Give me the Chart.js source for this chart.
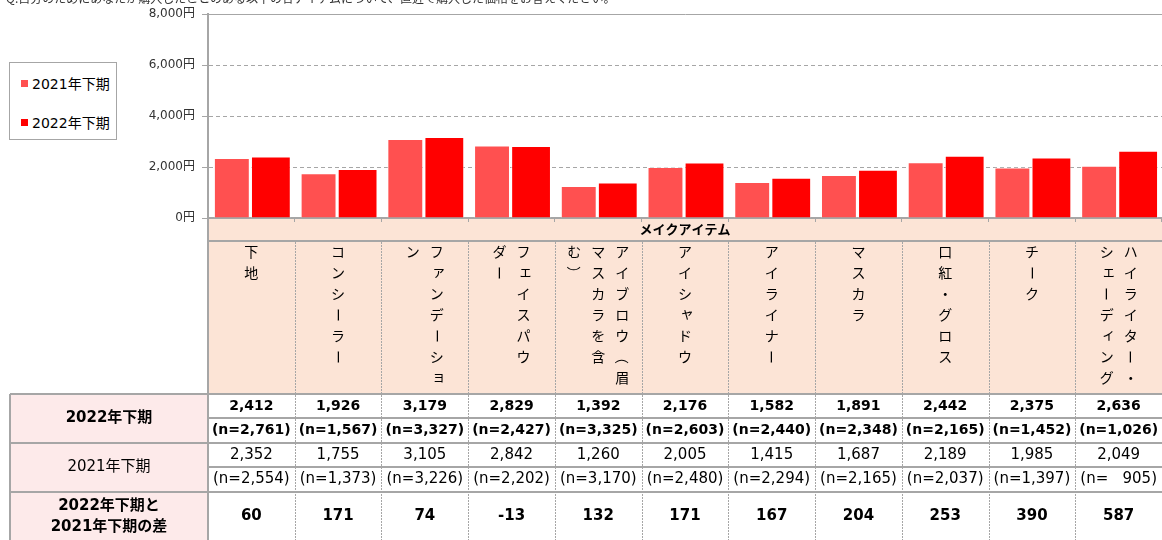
<!DOCTYPE html>
<html>
<head>
<meta charset="utf-8">
<script src="https://cdn.jsdelivr.net/npm/chart.js@4.4.0/dist/chart.umd.min.js"></script>
<style>
  body { margin: 0; background: #fff; font-family: "DejaVu Sans", "Noto Sans CJK JP", sans-serif; }
  #wrap { position: relative; width: 1162px; height: 540px; overflow: hidden; }
  #title { position: absolute; left: 6px; top: -11px; font-size: 12px; color: #333; white-space: nowrap; font-family: "Noto Sans CJK JP", sans-serif; }
  #legend { position: absolute; left: 9px; top: 62px; width: 106px; height: 76px; border: 1px solid #a6a6a6; background: #fff; }
  #legend .item { position: absolute; left: 11px; font-size: 14px; color: #000; white-space: nowrap; }
  #legend .box { display: inline-block; width: 7px; height: 7px; margin-right: 4px; vertical-align: 2px; }
</style>
</head>
<body>
<div id="wrap">
  <canvas id="myChart" width="1162" height="540"></canvas>
  <div id="title">Q.自分のためにあなたが購入したことのある以下の各アイテムについて、直近で購入した価格をお答えください。</div>
  <div id="legend"></div>
</div>
<script>
// categories, '\n' = next vertical column
const categories = ['下地', 'コンシーラー', 'ファンデーショ\nン', 'フェイスパウ\nダー', 'アイブロウ（眉\nマスカラを含\nむ）',
  'アイシャドウ', 'アイライナー', 'マスカラ', '口紅・グロス', 'チーク', 'ハイライター・\nシェーディング'];
const groupTitle = 'メイクアイテム';
const seriesNames = ['2021年下期', '2022年下期'];
const seriesColors = ['#FF5050', '#FF0000'];
const values2022 = [2412, 1926, 3179, 2829, 1392, 2176, 1582, 1891, 2442, 2375, 2636];
const values2021 = [2352, 1755, 3105, 2842, 1260, 2005, 1415, 1687, 2189, 1985, 2049];
const n2022 = [2761, 1567, 3327, 2427, 3325, 2603, 2440, 2348, 2165, 1452, 1026];
const n2021 = [2554, 1373, 3226, 2202, 3170, 2480, 2294, 2165, 2037, 1397, 905];
const diffs = [60, 171, 74, -13, 132, 171, 167, 204, 253, 390, 587];
const yTicks = [0, 2000, 4000, 6000, 8000];
const rowLabels = ['2022年下期', '2021年下期', '2022年下期と\n2021年下期の差'];

const numFont = '"DejaVu Sans", "Noto Sans CJK JP", sans-serif';
const jpFont = '"Noto Sans CJK JP", sans-serif';
const lineGray = '#A6A6A6';

const fmt = (v) => v.toLocaleString('en-US');
const fmtN = (v) => v >= 1000 ? `(n=${fmt(v)})` : `(n=   ${v})`;

function drawVertical(ctx, text, cx, top) {
  const cols = text.split('\n');
  const colGap = 24;
  const lineH = 21;
  cols.forEach((col, j) => {
    const colX = cx + (cols.length - 1) * colGap / 2 - j * colGap;
    [...col].forEach((ch, k) => {
      ctx.save();
      ctx.translate(colX, top + k * lineH);
      if ('ー（）'.includes(ch)) ctx.rotate(Math.PI / 2);
      if ('ァィゥェォャュョッ'.includes(ch)) ctx.translate(2, -2);
      ctx.fillText(ch, 0, 0);
      ctx.restore();
    });
  });
}

function hline(ctx, x1, x2, y) {
  ctx.beginPath();
  ctx.moveTo(x1, y);
  ctx.lineTo(x2, y);
  ctx.stroke();
}

function vline(ctx, x, y1, y2) {
  ctx.beginPath();
  ctx.moveTo(x, y1);
  ctx.lineTo(x, y2);
  ctx.stroke();
}

// table under the plot, laid out on the x scale
const tablePlugin = {
  id: 'makeTable',
  beforeDraw(chart) {
    const ctx = chart.ctx;
    const x = chart.scales.x;
    const bottom = chart.chartArea.bottom;
    const catBot = bottom + 176;
    ctx.save();
    ctx.fillStyle = '#FCE4D6';
    ctx.fillRect(x.left, bottom, x.right - x.left, catBot - bottom);
    ctx.fillStyle = '#FDEAEA';
    ctx.fillRect(10, catBot, x.left - 10, chart.height - catBot);
    ctx.restore();
  },
  afterDraw(chart) {
    const ctx = chart.ctx;
    const x = chart.scales.x;
    const area = chart.chartArea;
    const colW = (x.right - x.left) / categories.length;
    const headBot = area.bottom + 23;
    const catBot = area.bottom + 176;
    const rows = [catBot, catBot + 24, catBot + 49, catBot + 73, catBot + 98, chart.height];

    ctx.save();
    // solid lines
    ctx.strokeStyle = lineGray;
    ctx.lineWidth = 2;
    hline(ctx, x.left, x.right, headBot);
    hline(ctx, 10, x.right, rows[0]);
    hline(ctx, x.left, x.right, rows[1]);
    hline(ctx, 10, x.right, rows[2]);
    hline(ctx, x.left, x.right, rows[3]);
    hline(ctx, 10, x.right, rows[4]);
    vline(ctx, x.left, area.bottom, chart.height);
    vline(ctx, 10, rows[0], chart.height);

    // dotted column dividers
    ctx.lineWidth = 1;
    ctx.setLineDash([2, 1]);
    for (let i = 1; i < categories.length; i++) {
      const px = Math.round(x.left + i * colW) + 0.5;
      vline(ctx, px, headBot + 1, chart.height);
    }
    ctx.setLineDash([]);

    ctx.fillStyle = '#000';
    ctx.textAlign = 'center';
    ctx.textBaseline = 'middle';

    ctx.font = `bold 13px ${jpFont}`;
    ctx.fillText(groupTitle, (x.left + x.right) / 2, area.bottom + 11);

    ctx.font = `14px ${jpFont}`;
    categories.forEach((c, i) => {
      drawVertical(ctx, c, x.getPixelForValue(i), headBot + 11);
    });

    const mid = (a, b) => (a + b) / 2;
    categories.forEach((c, i) => {
      const cx = x.getPixelForValue(i);
      ctx.font = `bold 14px ${numFont}`;
      ctx.fillText(fmt(values2022[i]), cx, mid(rows[0], rows[1]));
      ctx.fillText(fmtN(n2022[i]), cx, mid(rows[1], rows[2]));
      ctx.font = `15px ${numFont}`;
      ctx.fillText(fmt(values2021[i]), cx, mid(rows[2], rows[3]));
      ctx.fillText(fmtN(n2021[i]), cx, mid(rows[3], rows[4]));
      ctx.font = `bold 15px ${numFont}`;
      ctx.fillText(String(diffs[i]), cx, mid(rows[4], rows[5]));
    });

    // row labels
    const lx = (10 + x.left) / 2;
    ctx.font = `bold 15px ${numFont}`;
    ctx.fillText(rowLabels[0], lx, mid(rows[0], rows[2]));
    ctx.font = `15px ${numFont}`;
    ctx.fillText(rowLabels[1], lx, mid(rows[2], rows[4]));
    ctx.font = `bold 15px ${numFont}`;
    rowLabels[2].split('\n').forEach((t, k) => {
      ctx.fillText(t, lx, rows[4] + 14 + k * 21);
    });
    ctx.restore();
  }
};

const config = {
  type: 'bar',
  data: {
    labels: categories,
    datasets: [{
      label: seriesNames[0],
      data: values2021,
      backgroundColor: seriesColors[0],
      borderColor: 'rgba(255,255,255,0.6)',
      borderWidth: 1,
      barPercentage: 0.92,
      categoryPercentage: 0.9
    }, {
      label: seriesNames[1],
      data: values2022,
      backgroundColor: seriesColors[1],
      borderColor: 'rgba(255,255,255,0.6)',
      borderWidth: 1,
      barPercentage: 1.02,
      categoryPercentage: 0.9
    }]
  },
  options: {
    responsive: false,
    animation: false,
    devicePixelRatio: 1,
    layout: { padding: { top: 14, bottom: 318, left: 0, right: 0 } },
    plugins: {
      legend: { display: false },
      tooltip: { enabled: false }
    },
    scales: {
      x: {
        grid: { offset: true, drawOnChartArea: false, drawTicks: true, tickLength: 4, color: lineGray },
        border: { color: lineGray, width: 2 },
        ticks: { display: false },
        afterFit: (s) => { s.height = 4; }
      },
      y: {
        min: 0,
        max: 8000,
        afterBuildTicks: (s) => { s.ticks = yTicks.map((v) => ({ value: v })); },
        ticks: {
          callback: (v) => `${fmt(v)}円`,
          font: { family: numFont, size: 12 },
          color: '#333333',
          padding: 7
        },
        grid: { color: lineGray, lineWidth: 1, tickLength: 6, tickColor: lineGray },
        border: {
          color: lineGray,
          width: 2,
          dash: (c) => (c.tick && c.tick.value === 8000 ? [] : [4, 3])
        },
        afterFit: (s) => { s.width = 208; }
      }
    }
  },
  plugins: [tablePlugin]
};

const myChart = new Chart(document.getElementById('myChart'), config);

// legend box
const legend = document.getElementById('legend');
myChart.data.datasets.forEach((ds, i) => {
  const item = document.createElement('div');
  item.className = 'item';
  item.style.top = `${10 + i * 39}px`;
  item.innerHTML = `<span class="box" style="background:${ds.backgroundColor}"></span>${ds.label}`;
  legend.appendChild(item);
});
</script>
</body>
</html>
